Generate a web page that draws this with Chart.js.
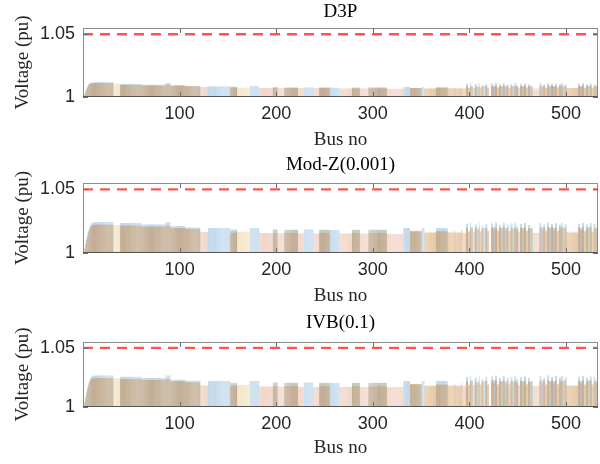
<!DOCTYPE html>
<html>
<head>
<meta charset="utf-8">
<script src="https://cdn.jsdelivr.net/npm/chart.js@4.4.1/dist/chart.umd.min.js"></script>
<style>
  html, body { margin: 0; padding: 0; background: #fff; }
  body { width: 600px; height: 464px; position: relative; overflow: hidden; }
  .panel { position: absolute; left: 0; width: 600px; }
  canvas { display: block; }
</style>
</head>
<body>
<div class="panel" style="top:0px"><canvas id="chartD3P" width="600" height="155"></canvas></div>
<div class="panel" style="top:153px"><canvas id="chartModZ" width="600" height="155"></canvas></div>
<div class="panel" style="top:311px"><canvas id="chartIVB" width="600" height="153"></canvas></div>
<script>
// Axis ticks and limits
const xTicks = [100, 200, 300, 400, 500];
const yTicks = [1, 1.05];
const limitVoltage = 1.05;
const busMax = 533;
const phaseNames = ['Phase a', 'Phase b', 'Phase c'];

// Bus voltages: [fromBus, toBus, phase a, phase b, phase c] (null = phase not present)
const d3pRows = [
  [1,1,1.0003,1.0003,1.0003],[2,2,1.0025,1.0022,1.0020],[3,3,1.0050,1.0045,1.0042],
  [4,4,1.0072,1.0066,1.0063],[5,5,1.0090,1.0083,1.0080],[6,6,1.0103,1.0096,1.0093],
  [7,7,1.0111,1.0104,1.0101],[8,9,1.0116,1.0109,1.0106],[10,12,1.0118,1.0112,1.0109],
  [13,31,1.0119,1.0113,1.0110],[32,38,null,null,1.0108],[39,60,1.0106,1.0099,1.0096],
  [61,85,1.0100,1.0094,1.0092],[86,90,1.0113,1.0104,1.0098],[91,105,1.0096,1.0089,1.0091],
  [106,121,1.0091,1.0085,1.0087],[122,129,null,1.0080,null],[130,152,1.0086,null,null],
  [153,159,1.0083,1.0076,1.0079],[160,172,null,null,1.0075],[173,182,1.0088,null,null],
  [183,196,null,1.0074,null],[197,201,1.0081,1.0074,1.0078],[202,208,null,1.0072,null],
  [209,222,1.0078,1.0072,1.0076],[223,228,null,1.0071,null],[229,238,1.0078,null,null],
  [239,244,null,1.0071,null],[245,255,1.0077,1.0071,1.0075],[256,265,1.0076,null,null],
  [266,278,null,1.0070,null],[279,286,1.0075,1.0070,1.0077],[287,295,null,1.0069,null],
  [296,314,1.0076,1.0070,1.0082],[315,331,null,1.0068,null],[332,338,1.0079,null,null],
  [339,350,1.0072,1.0074,1.0073],[351,353,1.0079,null,null],[354,365,null,1.0068,1.0071],
  [366,377,1.0081,1.0072,1.0074],[378,384,null,1.0069,1.0072],[385,385,1.0076,1.0070,null],
  [386,391,null,1.0068,1.0071],[392,392,1.0078,null,1.0073],[393,396,null,1.0069,null],
  [397,398,1.0106,1.0086,1.0090],[399,400,null,1.0072,1.0076],[401,401,1.0112,1.0090,1.0085],
  [402,403,1.0092,null,1.0082],[404,405,null,1.0073,null],[406,407,1.0104,1.0086,1.0094],
  [408,409,1.0085,null,1.0080],[410,410,1.0111,1.0092,1.0090],[411,412,null,1.0073,1.0077],
  [413,414,1.0098,1.0084,1.0090],[415,416,1.0087,null,null],[417,418,1.0105,1.0088,1.0092],
  [419,420,null,1.0074,1.0078],[423,424,1.0109,1.0090,1.0087],[425,426,1.0092,1.0081,null],
  [427,428,1.0114,1.0087,1.0095],[429,430,null,1.0075,1.0079],[431,432,1.0101,1.0088,1.0090],
  [433,434,1.0089,null,1.0084],[435,436,1.0111,1.0092,1.0097],[437,438,1.0087,1.0078,null],
  [439,440,1.0104,1.0090,1.0092],[441,442,null,1.0074,1.0077],[443,444,1.0108,1.0087,1.0095],
  [445,446,1.0089,null,1.0083],[447,448,1.0112,1.0091,1.0090],[449,450,1.0094,1.0082,1.0087],
  [451,452,null,1.0073,null],[453,454,1.0106,1.0088,1.0092],[455,456,1.0088,null,1.0082],
  [457,458,1.0110,1.0090,1.0096],[459,460,null,1.0075,1.0078],[461,462,1.0101,1.0087,1.0090],
  [463,465,1.0089,null,1.0083],[466,472,null,1.0070,null],[473,474,1.0111,1.0090,1.0092],
  [475,476,1.0092,1.0082,null],[477,478,1.0104,1.0088,1.0095],[479,480,null,1.0074,1.0078],
  [481,482,1.0114,1.0092,1.0094],[483,484,1.0089,null,1.0084],[485,486,1.0107,1.0088,1.0097],
  [487,488,1.0088,1.0079,null],[489,490,1.0110,1.0091,1.0092],[491,492,null,1.0075,1.0077],
  [493,494,1.0102,1.0087,1.0095],[495,496,1.0112,1.0090,1.0089],[497,498,1.0092,null,1.0083],
  [499,500,1.0106,1.0088,1.0092],[501,512,null,1.0071,1.0074],[513,514,1.0108,1.0088,1.0092],
  [515,516,1.0089,1.0079,null],[517,518,1.0111,1.0090,1.0095],[519,520,null,1.0074,1.0078],
  [521,522,1.0104,1.0087,1.0090],[523,524,1.0092,null,1.0084],[525,526,1.0109,1.0090,1.0096],
  [527,528,null,1.0073,1.0077],[529,530,1.0106,1.0088,1.0092],[531,532,1.0089,1.0082,1.0087]
];

const modZRows = [
  [1,1,1.0005,1.0005,1.0005],[2,2,1.0040,1.0035,1.0032],[3,3,1.0080,1.0072,1.0068],
  [4,4,1.0120,1.0108,1.0104],[5,5,1.0155,1.0140,1.0136],[6,6,1.0185,1.0166,1.0162],
  [7,7,1.0208,1.0188,1.0185],[8,8,1.0225,1.0204,1.0200],[9,9,1.0236,1.0215,1.0212],
  [10,12,1.0242,1.0222,1.0219],[13,31,1.0245,1.0226,1.0222],[32,38,null,null,1.0220],
  [39,60,1.0236,1.0218,1.0215],[61,85,1.0226,1.0210,1.0206],[86,90,1.0246,1.0222,1.0212],
  [91,105,1.0212,1.0196,1.0199],[106,121,1.0202,1.0189,1.0193],[122,129,null,1.0166,null],
  [130,152,1.0199,null,null],[153,159,1.0186,1.0160,1.0172],[160,172,null,null,1.0168],
  [173,182,1.0199,null,null],[183,196,null,1.0158,null],[197,201,1.0187,1.0160,1.0181],
  [202,208,null,1.0157,null],[209,222,1.0185,1.0160,1.0183],[223,228,null,1.0155,null],
  [229,238,1.0186,null,null],[239,244,null,1.0155,null],[245,255,1.0185,1.0160,1.0181],
  [256,265,1.0183,null,null],[266,278,null,1.0156,null],[279,286,1.0180,1.0160,1.0186],
  [287,295,null,1.0155,null],[296,314,1.0181,1.0158,1.0186],[315,331,null,1.0152,null],
  [332,338,1.0196,null,null],[339,350,1.0170,1.0177,1.0175],[351,353,1.0196,null,null],
  [354,365,null,1.0160,1.0166],[366,377,1.0196,1.0170,1.0172],[378,384,null,1.0162,1.0168],
  [385,385,1.0178,1.0165,null],[386,391,null,1.0160,1.0166],[392,392,1.0180,null,1.0170],
  [393,396,null,1.0162,null],
  [397,398,1.0230,1.0195,1.0200],[399,400,null,1.0166,1.0174],[401,401,1.0240,1.0200,1.0192],
  [402,403,1.0205,null,1.0186],[404,405,null,1.0168,null],[406,407,1.0226,1.0195,1.0208],
  [408,409,1.0192,null,1.0182],[410,410,1.0238,1.0204,1.0200],[411,412,null,1.0168,1.0175],
  [413,414,1.0216,1.0190,1.0200],[415,416,1.0196,null,null],[417,418,1.0228,1.0198,1.0205],
  [419,420,null,1.0170,1.0178],[423,424,1.0234,1.0200,1.0196],[425,426,1.0205,1.0184,null],
  [427,428,1.0242,1.0196,1.0210],[429,430,null,1.0172,1.0180],[431,432,1.0220,1.0198,1.0200],
  [433,434,1.0200,null,1.0190],[435,436,1.0238,1.0205,1.0214],[437,438,1.0196,1.0178,null],
  [439,440,1.0225,1.0200,1.0205],[441,442,null,1.0170,1.0176],[443,444,1.0232,1.0195,1.0210],
  [445,446,1.0200,null,1.0188],[447,448,1.0240,1.0202,1.0200],[449,450,1.0210,1.0185,1.0195],
  [451,452,null,1.0168,null],[453,454,1.0228,1.0198,1.0205],[455,456,1.0198,null,1.0185],
  [457,458,1.0235,1.0200,1.0212],[459,460,null,1.0172,1.0178],[461,462,1.0220,1.0195,1.0200],
  [463,465,1.0200,null,1.0188],[466,472,null,1.0160,null],[473,474,1.0238,1.0200,1.0205],
  [475,476,1.0205,1.0185,null],[477,478,1.0225,1.0198,1.0210],[479,480,null,1.0170,1.0178],
  [481,482,1.0242,1.0205,1.0208],[483,484,1.0200,null,1.0190],[485,486,1.0230,1.0198,1.0215],
  [487,488,1.0198,1.0180,null],[489,490,1.0236,1.0202,1.0205],[491,492,null,1.0172,1.0176],
  [493,494,1.0222,1.0195,1.0210],[495,496,1.0240,1.0200,1.0198],[497,498,1.0205,null,1.0188],
  [499,500,1.0228,1.0198,1.0205],[501,512,null,1.0162,1.0168],[513,514,1.0232,1.0198,1.0205],
  [515,516,1.0200,1.0180,null],[517,518,1.0238,1.0200,1.0210],[519,520,null,1.0170,1.0178],
  [521,522,1.0225,1.0195,1.0200],[523,524,1.0205,null,1.0190],[525,526,1.0235,1.0200,1.0212],
  [527,528,null,1.0168,1.0175],[529,530,1.0228,1.0198,1.0205],[531,532,1.0200,1.0185,1.0195]
];

const ivbRows = [
  [1,1,1.0005,1.0005,1.0005],[2,2,1.0045,1.0040,1.0037],[3,3,1.0090,1.0082,1.0078],
  [4,4,1.0135,1.0123,1.0118],[5,5,1.0175,1.0160,1.0155],[6,6,1.0208,1.0190,1.0185],
  [7,7,1.0232,1.0212,1.0208],[8,8,1.0250,1.0228,1.0224],[9,9,1.0260,1.0238,1.0235],
  [10,12,1.0266,1.0245,1.0242],[13,31,1.0268,1.0248,1.0245],[32,38,null,null,1.0243],
  [39,60,1.0258,1.0240,1.0237],[61,85,1.0248,1.0232,1.0228],[86,90,1.0268,1.0244,1.0234],
  [91,105,1.0233,1.0217,1.0220],[106,121,1.0224,1.0210,1.0214],[122,129,null,1.0183,null],
  [130,152,1.0222,null,null],[153,159,1.0208,1.0178,1.0192],[160,172,null,null,1.0188],
  [173,182,1.0222,null,null],[183,196,null,1.0175,null],[197,201,1.0210,1.0178,1.0202],
  [202,208,null,1.0173,null],[209,222,1.0208,1.0177,1.0204],[223,228,null,1.0172,null],
  [229,238,1.0210,null,null],[239,244,null,1.0172,null],[245,255,1.0208,1.0177,1.0202],
  [256,265,1.0206,null,null],[266,278,null,1.0172,null],[279,286,1.0204,1.0177,1.0208],
  [287,295,null,1.0171,null],[296,314,1.0205,1.0175,1.0208],[315,331,null,1.0169,null],
  [332,338,1.0220,null,null],[339,350,1.0192,1.0196,1.0195],[351,353,1.0220,null,null],
  [354,365,null,1.0177,1.0185],[366,377,1.0220,1.0190,1.0192],[378,384,null,1.0180,1.0187],
  [385,385,1.0200,1.0183,null],[386,391,null,1.0178,1.0185],[392,392,1.0203,null,1.0190],
  [393,396,null,1.0180,null],
  [397,398,1.0255,1.0216,1.0222],[399,400,null,1.0184,1.0193],[401,401,1.0266,1.0222,1.0213],
  [402,403,1.0228,null,1.0207],[404,405,null,1.0186,null],[406,407,1.0251,1.0216,1.0230],
  [408,409,1.0214,null,1.0202],[410,410,1.0264,1.0226,1.0222],[411,412,null,1.0186,1.0194],
  [413,414,1.0240,1.0211,1.0222],[415,416,1.0218,null,null],[417,418,1.0253,1.0220,1.0227],
  [419,420,null,1.0188,1.0197],[423,424,1.0260,1.0222,1.0218],[425,426,1.0228,1.0205,null],
  [427,428,1.0268,1.0218,1.0232],[429,430,null,1.0190,1.0199],[431,432,1.0245,1.0220,1.0222],
  [433,434,1.0223,null,1.0211],[435,436,1.0264,1.0227,1.0236],[437,438,1.0218,1.0198,null],
  [439,440,1.0250,1.0222,1.0227],[441,442,null,1.0188,1.0195],[443,444,1.0258,1.0216,1.0232],
  [445,446,1.0223,null,1.0209],[447,448,1.0266,1.0224,1.0222],[449,450,1.0234,1.0206,1.0216],
  [451,452,null,1.0186,null],[453,454,1.0253,1.0220,1.0227],[455,456,1.0220,null,1.0206],
  [457,458,1.0261,1.0222,1.0234],[459,460,null,1.0190,1.0197],[461,462,1.0245,1.0216,1.0222],
  [463,465,1.0223,null,1.0209],[466,472,null,1.0178,null],[473,474,1.0264,1.0222,1.0227],
  [475,476,1.0228,1.0206,null],[477,478,1.0250,1.0220,1.0232],[479,480,null,1.0188,1.0197],
  [481,482,1.0268,1.0227,1.0230],[483,484,1.0223,null,1.0211],[485,486,1.0256,1.0220,1.0237],
  [487,488,1.0220,1.0200,null],[489,490,1.0262,1.0224,1.0227],[491,492,null,1.0190,1.0195],
  [493,494,1.0247,1.0216,1.0232],[495,496,1.0266,1.0222,1.0220],[497,498,1.0228,null,1.0209],
  [499,500,1.0253,1.0220,1.0227],[501,512,null,1.0180,1.0187],[513,514,1.0258,1.0220,1.0227],
  [515,516,1.0223,1.0200,null],[517,518,1.0264,1.0222,1.0232],[519,520,null,1.0188,1.0197],
  [521,522,1.0250,1.0216,1.0222],[523,524,1.0228,null,1.0211],[525,526,1.0261,1.0222,1.0234],
  [527,528,null,1.0186,1.0194],[529,530,1.0253,1.0220,1.0227],[531,532,1.0223,1.0206,1.0216]
];

// MATLAB default colours, drawn transparent
const phaseColors = [
  'rgba(0, 114, 189, 0.22)',   // blue
  'rgba(217, 83, 25, 0.19)',   // orange
  'rgba(237, 177, 32, 0.19)'   // yellow
];
// thin darker edge per bar gives the striped look
const phaseEdges = [
  'rgba(0, 90, 160, 0.28)',
  'rgba(170, 70, 25, 0.28)',
  'rgba(170, 120, 20, 0.28)'
];

function busSeries(rows, phase) {
  const out = [];
  rows.forEach(r => {
    const v = r[2 + phase];
    if (v === null) return;
    for (let b = r[0]; b <= r[1]; b++) out.push({ x: b, y: v });
  });
  return out;
}

// frame + inward tick marks like MATLAB axes
const axesBox = {
  id: 'axesBox',
  afterDatasetsDraw(chart) {
    const { ctx, chartArea: a, scales: { x, y } } = chart;
    ctx.save();
    ctx.lineWidth = 1;
    ctx.strokeStyle = '#8c8c8c';
    ctx.strokeRect(Math.round(a.left) + 0.5, Math.round(a.top) + 0.5,
      Math.round(a.right - a.left) - 1, Math.round(a.bottom - a.top) - 1);
    ctx.strokeStyle = '#555';
    ctx.beginPath();
    ctx.moveTo(a.left, Math.round(a.bottom) - 0.5);
    ctx.lineTo(a.right, Math.round(a.bottom) - 0.5);
    ctx.stroke();
    ctx.strokeStyle = '#6e6e6e';
    ctx.beginPath();
    xTicks.forEach(t => {
      const px = Math.round(x.getPixelForValue(t)) + 0.5;
      ctx.moveTo(px, a.top); ctx.lineTo(px, a.top + 5);
      ctx.moveTo(px, a.bottom); ctx.lineTo(px, a.bottom - 5);
    });
    yTicks.forEach(t => {
      const py = Math.round(y.getPixelForValue(t)) + 0.5;
      ctx.moveTo(a.left, py); ctx.lineTo(a.left + 5, py);
      ctx.moveTo(a.right, py); ctx.lineTo(a.right - 5, py);
    });
    ctx.stroke();
    ctx.restore();
  }
};

const panels = [
  { id: 'chartD3P', title: 'D3P', rows: d3pRows, titlePad: { top: 1, bottom: 4.2 }, xHeight: 58, tickPad: 6, xTitlePad: 3.6 },
  { id: 'chartModZ', title: 'Mod-Z(0.001)', rows: modZRows, titlePad: { top: 1, bottom: 6.2 }, xHeight: 55, tickPad: 6.2, xTitlePad: 0.6 },
  { id: 'chartIVB', title: 'IVB(0.1)', rows: ivbRows, titlePad: { top: 1, bottom: 7.2 }, xHeight: 57, tickPad: 6.2, xTitlePad: 4.6 }
];

const serif = "'Liberation Serif', 'DejaVu Serif', serif";
const sans = "'Liberation Sans', Arial, sans-serif";

panels.forEach(p => {
  const datasets = [{
    type: 'line',
    label: 'Limit',
    data: [{ x: 0, y: limitVoltage }, { x: busMax, y: limitVoltage }],
    borderColor: 'rgba(255, 40, 40, 0.8)',
    borderWidth: 2.3,
    borderDash: [10, 7],
    pointRadius: 0
  }];
  // yellow on top, blue at the bottom
  [2, 1, 0].forEach(ph => {
    datasets.push({
      type: 'bar',
      label: phaseNames[ph],
      data: busSeries(p.rows, ph),
      backgroundColor: phaseColors[ph],
      borderColor: phaseEdges[ph],
      borderWidth: { left: 0.5, right: 0, top: 0, bottom: 0 },
      borderSkipped: false,
      base: 1,
      grouped: false,
      barPercentage: 1.3,
      categoryPercentage: 1
    });
  });

  new Chart(document.getElementById(p.id), {
    type: 'bar',
    data: { datasets: datasets },
    options: {
      responsive: false,
      animation: false,
      layout: { padding: { left: 0, right: 2, top: 0, bottom: 0 } },
      plugins: {
        legend: { display: false },
        tooltip: { enabled: false },
        title: {
          display: true,
          text: p.title,
          fullSize: false,
          color: '#000',
          font: { family: serif, size: 19, weight: 'normal' },
          padding: p.titlePad
        }
      },
      scales: {
        x: {
          type: 'linear',
          min: 0,
          max: busMax,
          offset: false,
          grid: { display: false, drawTicks: false },
          border: { display: false },
          afterBuildTicks: s => { s.ticks = xTicks.map(v => ({ value: v })); },
          afterFit: s => { s.height = p.xHeight; },
          ticks: {
            padding: p.tickPad,
            color: '#262626',
            maxRotation: 0,
            font: { family: sans, size: 18 },
            callback: v => String(v)
          },
          title: {
            display: true,
            text: 'Bus no',
            color: '#262626',
            font: { family: serif, size: 19 },
            padding: { top: 0, bottom: p.xTitlePad }
          }
        },
        y: {
          min: 1,
          max: 1.055,
          grid: { display: false, drawTicks: false },
          border: { display: false },
          afterBuildTicks: s => { s.ticks = yTicks.map(v => ({ value: v })); },
          afterFit: s => { s.width = 83; },
          ticks: {
            padding: 8,
            color: '#262626',
            font: { family: sans, size: 18 },
            callback: v => (v === 1 ? '1' : v.toFixed(2))
          },
          title: {
            display: true,
            text: 'Voltage (pu)',
            color: '#262626',
            font: { family: serif, size: 19 },
            padding: { top: 11.6, bottom: 0 }
          }
        }
      }
    },
    plugins: [axesBox]
  });
});
</script>
</body>
</html>
